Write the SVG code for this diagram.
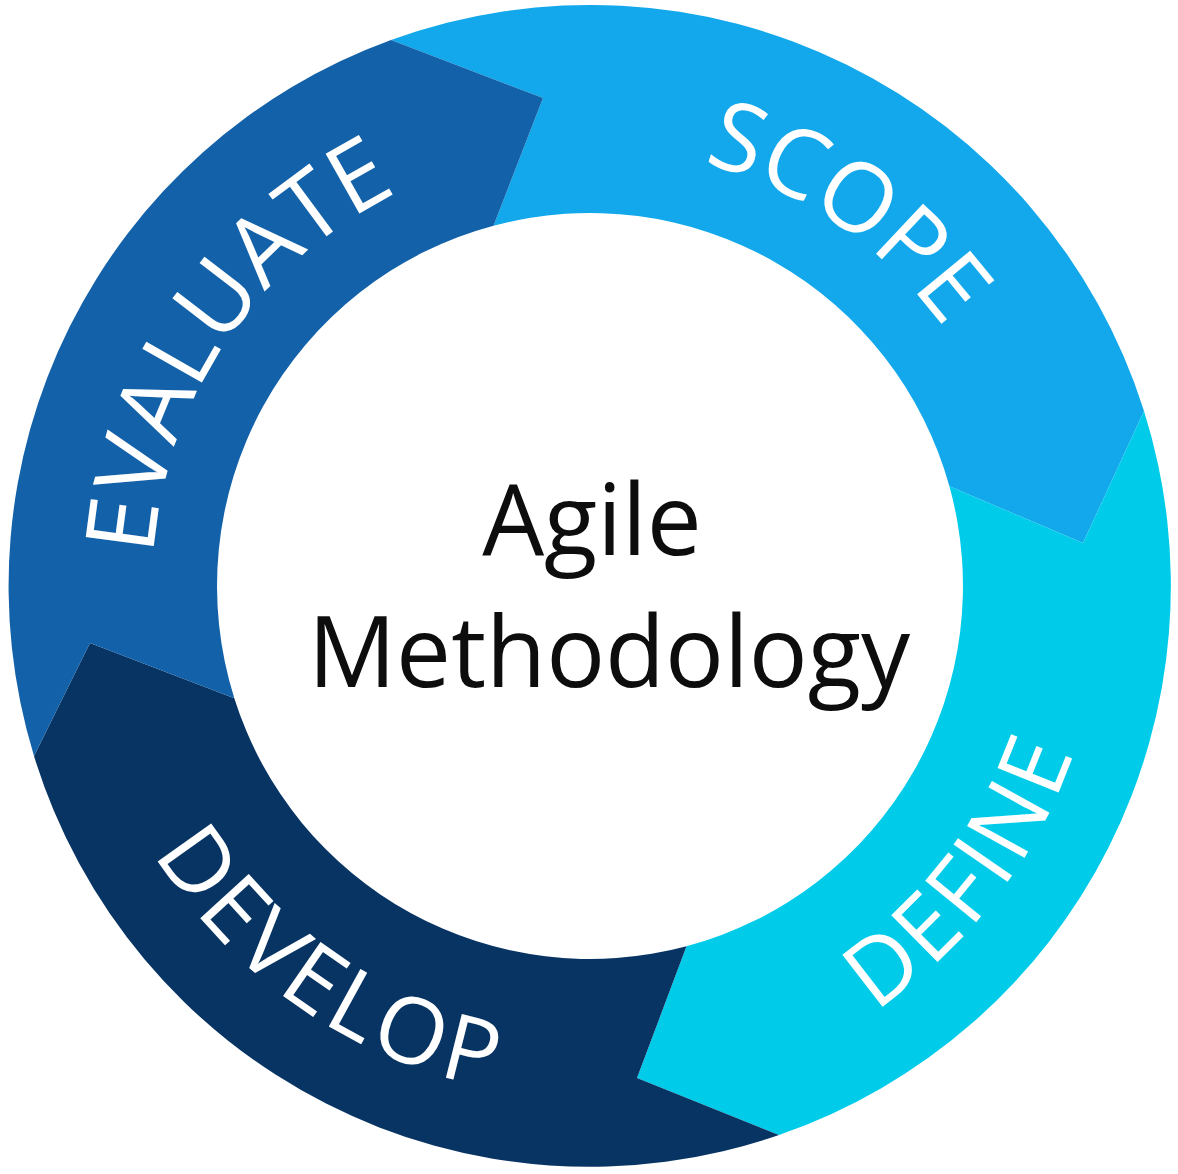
<svg xmlns="http://www.w3.org/2000/svg" width="1178" height="1174" viewBox="0 0 1178 1174">
  <style>
    .ring { font-family: "Open Sans", "Noto Sans", "Liberation Sans", sans-serif; font-size: 96px; fill: #ffffff; }
    .ring-b { font-family: "Open Sans", "Noto Sans", "Liberation Sans", sans-serif; font-size: 92px; letter-spacing: 4px; fill: #ffffff; }
    .center { font-family: "Open Sans", "Noto Sans", "Liberation Sans", sans-serif; font-size: 98px; fill: #0d0d0d; text-anchor: middle; }
  </style>
  <defs>
    <path id="arcScope" d="M252,307.4 A438 438 0 0 1 971.2 801.7"/>
    <path id="arcEvaluate" d="M314.4,926.4 A438 438 0 0 1 802.3 202.9"/>
    <path id="arcDevelop" d="M144.8,333.1 A512 512 0 0 0 984.5 912.3"/>
    <path id="arcDefine" d="M315.7,1018.3 A512 512 0 0 0 935.2 207.9"/>
  </defs>
  <rect width="1178" height="1174" fill="#ffffff"/>
  <g id="scope">
    <path d="M391,40 A581 581 0 0 1 1144,411 L1083,543 L949.4,486.3 A373 373 0 0 0 493.5,225.7 L543,98 Z" fill="#12A8EB"/>
    <text class="ring"><textPath href="#arcScope" startOffset="50%" text-anchor="middle">SCOPE</textPath></text>
  </g>
  <g id="define">
    <path d="M1144,411 A581 581 0 0 1 779,1135 L637,1078 L686.5,946.3 A373 373 0 0 0 949.4,486.3 L1083,543 Z" fill="#00CCEA"/>
    <text class="ring-b"><textPath href="#arcDefine" startOffset="50%" text-anchor="middle">DEFINE</textPath></text>
  </g>
  <g id="develop">
    <path d="M779,1135 A581 581 0 0 1 34,756 L90,643 L234.3,698.2 A373 373 0 0 0 686.5,946.3 L637,1078 Z" fill="#083464"/>
    <text class="ring-b"><textPath href="#arcDevelop" startOffset="50%" text-anchor="middle">DEVELOP</textPath></text>
  </g>
  <g id="evaluate">
    <path d="M34,756 A581 581 0 0 1 391,40 L543,98 L493.5,225.7 A373 373 0 0 0 234.3,698.2 L90,643 Z" fill="#1261A9"/>
    <text class="ring"><textPath href="#arcEvaluate" startOffset="50%" text-anchor="middle">EVALUATE</textPath></text>
  </g>
  <g id="agile-methodology">
    <text class="center" x="592" y="555">Agile</text>
    <text class="center" x="609" y="687">Methodology</text>
  </g>
  <g id="connectors"></g>
</svg>
